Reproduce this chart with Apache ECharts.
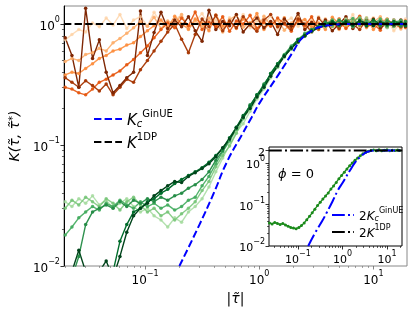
<!DOCTYPE html>
<html><head><meta charset="utf-8">
<script src="https://cdn.jsdelivr.net/npm/echarts@6/dist/echarts.min.js"></script>
<style>html,body{margin:0;padding:0;background:#fff}#c{width:415px;height:311px}</style>
</head><body><div id="c"></div>
<script>
// shared |tau| grid
const tau = [0.0200,0.0229,0.0263,0.0302,0.0347,0.0398,0.0457,0.0525,0.0603,0.0692,0.0794,0.0912,0.105,0.120,0.138,0.158,0.182,0.209,0.240,0.275,0.316,0.363,0.417,0.479,0.550,0.631,0.724,0.832,0.955,1.10,1.26,1.45,1.66,1.91,2.19,2.51,2.88,3.31,3.80,4.37,5.01,5.75,6.61,7.59,8.71,10.0,11.5,13.2,15.1,17.4,19.1];

const orange1 = [0.74,0.82,0.9,0.86,1.02,0.95,1.12,0.98,1.2,0.92,1.08,1.15,0.96,1.25,1.02,0.9,1.1,1.18,0.94,1.05,1.22,0.97,1.08,0.88,1.13,1.0,1.2,0.93,1.06,0.99,1.17,0.91,1.04,1.12,0.96,1.08,0.9,1.15,1.0,0.94,1.1,0.97,1.2,0.92,1.05,1.13,0.95,1.08,0.88,1.02,1.1];
const orange2 = [0.49,0.52,0.5,0.56,0.58,0.63,0.6,0.7,0.76,0.84,0.93,1.05,0.96,1.14,0.92,1.06,0.99,1.2,0.9,1.07,0.95,1.12,1.0,0.86,1.09,1.18,0.94,1.03,0.91,1.16,0.98,1.08,0.89,1.02,1.14,0.95,1.06,0.92,1.1,1.01,0.9,1.12,0.99,1.07,0.93,1.04,1.15,0.97,1.06,0.91,1.02];
const orange3 = [0.38,0.4,0.39,0.43,0.47,0.52,0.55,0.6,0.62,0.67,0.7,0.79,0.88,0.97,1.08,0.94,1.16,1.0,0.91,1.1,1.02,0.88,1.19,0.96,1.05,0.92,1.1,1.0,1.22,0.9,1.04,0.97,1.13,0.93,1.05,1.09,0.95,1.02,0.9,1.14,1.0,0.94,1.08,0.97,1.12,0.9,1.03,1.1,0.96,1.07,0.93];
const orange4 = [0.3,0.29,0.27,0.26,0.29,0.33,0.35,0.38,0.41,0.46,0.51,0.58,0.66,0.77,0.9,1.02,0.93,1.12,0.97,1.26,0.9,1.04,0.95,1.15,0.87,1.06,1.0,1.18,0.92,1.03,0.96,1.12,1.0,0.87,1.08,0.97,1.15,0.9,1.05,0.96,1.1,0.92,1.04,1.16,0.95,1.01,0.89,1.09,1.0,0.94,1.06];
const orange5 = [0.36,0.33,0.3,0.34,0.31,0.28,0.32,0.26,0.3,0.35,0.33,0.42,0.5,0.6,0.72,0.86,1.0,0.75,0.58,0.82,1.1,0.95,1.18,0.88,1.06,0.93,1.15,0.98,0.87,1.08,1.2,0.95,1.02,0.9,1.1,1.0,0.86,1.12,0.97,1.05,0.92,1.07,1.0,0.9,1.1,0.98,1.05,0.94,1.08,0.99,1.03];
const orange6 = [0.77,0.55,0.3,1.35,0.52,0.74,0.4,0.27,0.31,0.36,0.4,1.28,0.55,0.85,1.25,0.92,1.08,0.95,1.15,0.88,0.72,1.3,0.9,1.05,0.97,1.2,0.86,1.0,1.12,0.93,1.05,0.82,1.1,0.96,1.22,0.9,1.03,0.95,1.08,0.88,1.0,1.15,0.92,1.04,0.97,1.1,0.93,1.02,0.96,1.08,0.95];

const green1 = [0.034,0.031,0.036,0.033,0.038,0.032,0.035,0.03,0.033,0.036,0.031,0.028,0.03,0.026,0.024,0.021,0.025,0.023,0.028,0.031,0.036,0.045,0.06,0.078,0.1,0.128,0.15,0.19,0.24,0.29,0.36,0.46,0.53,0.64,0.7,0.83,0.86,0.97,0.95,1.06,0.98,1.1,0.95,1.03,1.12,0.97,1.05,0.93,1.08,1.0,1.04];
const green2 = [0.03,0.035,0.032,0.037,0.034,0.031,0.036,0.033,0.029,0.034,0.037,0.032,0.028,0.03,0.026,0.028,0.024,0.027,0.03,0.034,0.042,0.05,0.066,0.082,0.098,0.125,0.165,0.2,0.25,0.31,0.38,0.44,0.55,0.62,0.74,0.79,0.9,0.93,1.02,0.96,1.08,0.99,1.05,1.13,0.97,1.06,1.0,1.09,0.95,1.04,0.99];
const green3 = [0.018,0.021,0.025,0.028,0.031,0.029,0.033,0.031,0.035,0.032,0.03,0.034,0.031,0.033,0.03,0.032,0.029,0.031,0.035,0.037,0.046,0.055,0.07,0.088,0.108,0.135,0.17,0.21,0.26,0.3,0.39,0.47,0.56,0.66,0.73,0.84,0.89,0.96,1.0,1.08,0.97,1.04,1.11,0.98,1.06,1.0,1.1,0.96,1.03,1.07,0.98];
const green4 = [0.006,0.008,0.012,0.022,0.028,0.03,0.032,0.03,0.034,0.031,0.035,0.033,0.036,0.034,0.037,0.035,0.038,0.04,0.044,0.047,0.052,0.06,0.075,0.09,0.112,0.14,0.168,0.215,0.255,0.32,0.38,0.46,0.55,0.64,0.75,0.82,0.9,0.95,1.04,0.99,1.07,1.02,0.96,1.08,1.0,1.05,0.97,1.06,1.01,0.96,1.05];
const green5 = [0.005,0.007,0.006,0.008,0.007,0.006,0.008,0.009,0.016,0.022,0.028,0.03,0.034,0.036,0.04,0.043,0.048,0.052,0.056,0.06,0.065,0.072,0.082,0.094,0.115,0.14,0.175,0.21,0.26,0.31,0.39,0.47,0.55,0.64,0.74,0.8,0.88,0.94,0.99,1.05,0.98,1.06,1.0,1.04,0.97,1.08,1.0,0.98,1.05,1.01,0.97];
const green6 = [0.006,0.009,0.0135,0.009,0.006,0.009,0.011,0.008,0.012,0.019,0.026,0.03,0.033,0.038,0.042,0.046,0.05,0.049,0.055,0.059,0.064,0.07,0.08,0.095,0.112,0.138,0.17,0.2,0.25,0.3,0.37,0.45,0.54,0.63,0.71,0.8,0.87,0.93,0.97,1.02,0.99,1.03,0.98,1.06,1.01,0.97,1.04,1.0,0.98,1.03,1.0];

// theory curves
const kcTau = [0.2,0.3,0.4,0.52,0.7,0.86,1.0,1.47,2.0,2.33,3.0,3.47,4.5,6.0,10.0,19.7];
const kcVal = [0.01,0.022,0.04,0.072,0.12,0.17,0.22,0.38,0.6,0.75,0.9,0.95,0.99,1.0,1.0,1.0];
const k1dpTau = [0.0195,19.7];
const k1dpVal = [1,1];

// inset (phi = 0)
const insetTau = [0.0229,0.0263,0.0302,0.0347,0.0398,0.0457,0.0525,0.0603,0.0692,0.0794,0.0912,0.105,0.120,0.138,0.158,0.182,0.209,0.240,0.275,0.316,0.363,0.417,0.479,0.550,0.631,0.724,0.832,0.955,1.10,1.26,1.45,1.66,1.91,2.19,2.51,2.88,3.31,3.80,4.37,5.01,5.75,6.61,7.59,8.71,10.0,11.5,13.2,15.1,17.4,19.1];
const insetGreen = [0.036,0.034,0.037,0.035,0.033,0.035,0.032,0.03,0.028,0.027,0.026,0.028,0.031,0.036,0.043,0.052,0.063,0.077,0.094,0.113,0.135,0.16,0.19,0.235,0.28,0.34,0.42,0.5,0.6,0.72,0.86,1.0,1.16,1.32,1.5,1.66,1.8,1.92,2.0,2.05,1.96,2.08,1.98,2.03,2.1,1.97,2.04,1.99,2.06,2.01];
const insetKcTau = [0.17,0.25,0.35,0.45,0.6,0.79,1.0,1.48,2.0,2.47,3.0,3.5,4.5,5.4,8.0,22.0];
const insetKcVal = [0.01,0.022,0.04,0.066,0.12,0.22,0.33,0.67,1.1,1.38,1.65,1.84,1.97,2.0,2.0,2.0];
const insetK1dpTau = [0.0224,22.0];
const insetK1dpVal = [2,2];

// ticks
const majorX = [0.1,1,10];
const minorX = [0.02,0.03,0.04,0.05,0.06,0.07,0.08,0.09,0.2,0.3,0.4,0.5,0.6,0.7,0.8,0.9,2,3,4,5,6,7,8,9];
const majorY = [0.01,0.1,1];
const minorY = [0.02,0.03,0.04,0.05,0.06,0.07,0.08,0.09,0.2,0.3,0.4,0.5,0.6,0.7,0.8,0.9];
const insetMajorX = [0.1,1,10];
const insetMinorX = [0.03,0.04,0.05,0.06,0.07,0.08,0.09,0.2,0.3,0.4,0.5,0.6,0.7,0.8,0.9,2,3,4,5,6,7,8,9,20];
const insetMajorY = [0.01,0.1,1];
const insetExtraY = [2];
const insetMinorY = [0.02,0.03,0.04,0.05,0.06,0.07,0.08,0.09,0.2,0.3,0.4,0.5,0.6,0.7,0.8,0.9];

const FONT = 'DejaVu Sans';
function powLabel(v){
  const l = Math.log10(v), e = Math.round(l);
  if (Math.abs(l - e) > 1e-6) return '{b|' + (+v.toPrecision(3)) + '}';
  return '{b|10}{s|' + (e < 0 ? '\u2212' + (-e) : e) + '}';
}
function richFor(size){
  return {
    b:{fontSize:size, fontFamily:FONT, color:'#000', verticalAlign:'bottom', lineHeight:size+5},
    s:{fontSize:Math.round(size*0.7), fontFamily:FONT, color:'#000', verticalAlign:'top', lineHeight:size+5}
  };
}
function pairs(xs, ys){ return xs.map((x,i)=>[x, ys[i]]); }

function dataSeries(vals, color, opacity, xi, yi, z){
  return {type:'line', data:pairs(tau, vals), xAxisIndex:xi, yAxisIndex:yi, symbol:'circle', symbolSize:3.5,
    showSymbol:true, lineStyle:{color:color, width:1.4, opacity:opacity}, itemStyle:{color:color, opacity:opacity},
    silent:true, animation:false, clip:true, z:z};
}

const series = [
  dataSeries(orange1,'#fdd0a2',0.75,0,0,2),
  dataSeries(orange2,'#fdae6b',0.9,0,0,2),
  dataSeries(orange3,'#fd8d3c',0.9,0,0,2),
  dataSeries(orange4,'#e6550d',0.9,0,0,2),
  dataSeries(orange5,'#a63603',0.95,0,0,2),
  dataSeries(orange6,'#7f2704',1,0,0,2),
  dataSeries(green1,'#a1d99b',0.8,0,0,2),
  dataSeries(green2,'#74c476',0.85,0,0,2),
  dataSeries(green3,'#41ab5d',0.9,0,0,2),
  dataSeries(green4,'#238b45',0.95,0,0,2),
  dataSeries(green5,'#006d2c',1,0,0,2),
  dataSeries(green6,'#00441b',1,0,0,2),
  {type:'line', name:'Kc', data:pairs(kcTau,kcVal), xAxisIndex:0, yAxisIndex:0, symbol:'none', smooth:true,
   lineStyle:{color:'#0000ff', width:2, type:[7.4,3.2]}, itemStyle:{color:'#0000ff'}, silent:true, animation:false, z:5},
  {type:'line', name:'K1DP', data:pairs(k1dpTau,k1dpVal), xAxisIndex:0, yAxisIndex:0, symbol:'none',
   lineStyle:{color:'#000', width:2, type:[7.4,3.2]}, itemStyle:{color:'#000'}, silent:true, animation:false, z:5},
  {type:'line', data:pairs(insetTau,insetGreen), xAxisIndex:2, yAxisIndex:2, symbol:'circle', symbolSize:3,
   lineStyle:{color:'#1a8a1a', width:1.3}, itemStyle:{color:'#1a8a1a'}, silent:true, animation:false, z:6},
  {type:'line', name:'2Kc', data:pairs(insetKcTau,insetKcVal), xAxisIndex:2, yAxisIndex:2, symbol:'none', smooth:true,
   lineStyle:{color:'#0000ff', width:2, type:[12.8,3.2,2,3.2]}, itemStyle:{color:'#0000ff'}, silent:true, animation:false, z:7},
  {type:'line', name:'2K1DP', data:pairs(insetK1dpTau,insetK1dpVal), xAxisIndex:2, yAxisIndex:2, symbol:'none',
   lineStyle:{color:'#000', width:2, type:[12.8,3.2,2,3.2]}, itemStyle:{color:'#000'}, silent:true, animation:false, z:7}
];

function majorAxis(grid, pos, min, max, vals, size, color, extra){
  return Object.assign({type:'log', gridIndex:grid, position:pos, min:min, max:max,
    axisLine:{show:false}, splitLine:{show:false},
    axisTick:{show:true, customValues:vals, length:3.5, lineStyle:{color:color, width:0.8}},
    axisLabel:{show:true, customValues:vals, formatter:powLabel, rich:richFor(size), margin:4, hideOverlap:false}}, extra||{});
}
function minorAxis(grid, pos, min, max, vals, color){
  return {type:'log', gridIndex:grid, position:pos, min:min, max:max, axisLine:{show:false}, splitLine:{show:false},
    axisTick:{show:true, customValues:vals, length:2, lineStyle:{color:color, width:0.6}},
    axisLabel:{show:false}};
}

const legendRich = {
  n:{fontSize:15, fontFamily:FONT, color:'#000', verticalAlign:'bottom', lineHeight:20},
  i:{fontSize:15, fontFamily:FONT, fontStyle:'italic', color:'#000', verticalAlign:'bottom', lineHeight:20},
  sub:{fontSize:10, fontFamily:FONT, fontStyle:'italic', color:'#000', verticalAlign:'bottom', lineHeight:18},
  sup:{fontSize:10, fontFamily:FONT, color:'#000', verticalAlign:'top', lineHeight:20}
};
const insetRich = {
  n:{fontSize:12, fontFamily:FONT, color:'#000', verticalAlign:'bottom', lineHeight:16},
  i:{fontSize:12, fontFamily:FONT, fontStyle:'italic', color:'#000', verticalAlign:'bottom', lineHeight:16},
  sub:{fontSize:8, fontFamily:FONT, fontStyle:'italic', color:'#000', verticalAlign:'bottom', lineHeight:14},
  sup:{fontSize:8, fontFamily:FONT, color:'#000', verticalAlign:'top', lineHeight:16}
};
const legendText = {
  'Kc':'{i|K}{sub|c}{sup|GinUE}',
  'K1DP':'{i|K}{sup|1DP}',
  '2Kc':'{n|2}{i|K}{sub|c}{sup|GinUE}',
  '2K1DP':'{n|2}{i|K}{sup|1DP}'
};

const option = {
  animation:false,
  backgroundColor:'#fff',
  grid:[
    {left:60, top:6, width:347, height:260, show:true, borderColor:'#888', borderWidth:1, backgroundColor:'transparent'},
    {left:269, top:147, width:133, height:99, show:true, borderColor:'#000', borderWidth:1, backgroundColor:'#fff', z:4}
  ],
  xAxis:[
    majorAxis(0, 'bottom', 0.0195, 19.7, majorX, 12, '#666', {name:'|\u03c4\u0303|', nameLocation:'middle', nameGap:26,
      nameTextStyle:{fontSize:14, fontFamily:FONT, fontStyle:'italic', color:'#000'}}),
    minorAxis(0, 'bottom', 0.0195, 19.7, minorX, '#666'),
    majorAxis(1, 'bottom', 0.0224, 21.7, insetMajorX, 11, '#000', {}),
    minorAxis(1, 'bottom', 0.0224, 21.7, insetMinorX, '#000')
  ],
  yAxis:[
    majorAxis(0, 'left', 0.01, 1.41, majorY, 12, '#000', {axisLine:{show:true, lineStyle:{color:'#000', width:1}},
      name:'{i|K(\u03c4\u0303, \u03c4\u0303}{s|*}{i|)}', nameLocation:'middle', nameGap:38, nameRotate:90,
      nameTextStyle:{rich:{i:{fontSize:14, fontFamily:FONT, fontStyle:'italic', color:'#000'}, s:{fontSize:10, fontFamily:FONT, color:'#000', verticalAlign:'top'}}}}),
    minorAxis(0, 'left', 0.01, 1.41, minorY, '#000'),
    majorAxis(1, 'left', 0.01, 2.43, insetMajorY, 11, '#000', {}),
    minorAxis(1, 'left', 0.01, 2.43, insetMinorY, '#000'),
    majorAxis(1, 'left', 0.01, 2.43, insetExtraY, 11, '#000', {})
  ],
  legend:[
    {data:['Kc','K1DP'], left:88, top:104, orient:'vertical', itemWidth:28, itemHeight:12, itemGap:3,
     formatter:n=>legendText[n], textStyle:{rich:legendRich}, itemStyle:{opacity:0}, selectedMode:false},
    {data:['2Kc','2K1DP'], left:326, top:202, orient:'vertical', itemWidth:22, itemHeight:10, itemGap:1,
     formatter:n=>legendText[n], textStyle:{rich:insetRich}, itemStyle:{opacity:0}, selectedMode:false, z:8}
  ],
  graphic:[
    {type:'text', left:278, top:168, z:10, style:{text:'{i|\u03d5} = 0', fontSize:13, fontFamily:FONT, fill:'#000',
      rich:{i:{fontSize:13, fontFamily:FONT, fontStyle:'italic', fill:'#000'}}}}
  ],
  series:series
};
const chart = echarts.init(document.getElementById('c'), null, {renderer:'canvas'});
chart.setOption(option);
</script></body></html>
